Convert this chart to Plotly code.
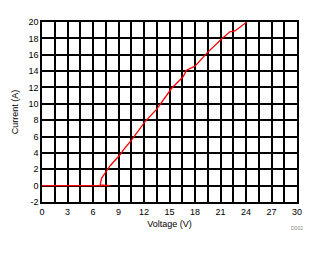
import plotly.graph_objects as go

voltage = [0, 8.0, 7.3, 6.85, 6.9, 7.0, 7.4, 8.0, 9.2, 9.6, 10.55, 12.1, 13.5, 15.26, 16.6, 17.0, 18.0, 19.4, 21.1, 22.1, 22.7, 24.1]
current = [0, 0, 0.05, 0.1, 0.5, 0.9, 1.5, 2.4, 3.8, 4.4, 5.6, 7.8, 9.35, 11.9, 13.3, 14.1, 14.6, 16.2, 17.9, 18.8, 18.9, 20.0]

x_ticks = [0, 3, 6, 9, 12, 15, 18, 21, 24, 27, 30]
y_ticks = [-2, 0, 2, 4, 6, 8, 10, 12, 14, 16, 18, 20]

fig = go.Figure()
fig.add_trace(go.Scatter(x=voltage, y=current, mode="lines",
                         line=dict(color="#ff0000", width=1.3), showlegend=False))

font = dict(family="Arial, Liberation Sans, sans-serif", size=9, color="#000000")
fig.update_layout(
    width=326, height=255,
    margin=dict(l=42, r=29, t=22, b=53),
    paper_bgcolor="white", plot_bgcolor="white",
    font=font,
    xaxis=dict(range=[0, 30], tickvals=x_ticks, ticktext=[str(v) for v in x_ticks],
               showgrid=True, gridcolor="black", gridwidth=1.5,
               minor=dict(dtick=1.5, tick0=0, showgrid=True, gridcolor="black", gridwidth=1.5),
               showline=True, linecolor="black", linewidth=1.5, mirror=True,
               zeroline=False, ticks="", fixedrange=True,
               title=dict(text="Voltage (V)", font=font, standoff=5)),
    yaxis=dict(range=[-2, 20], tickvals=y_ticks, ticktext=[str(v) for v in y_ticks],
               showgrid=True, gridcolor="black", gridwidth=1.5,
               showline=True, linecolor="black", linewidth=1.5, mirror=True,
               zeroline=False, ticks="", fixedrange=True,
               title=dict(text="Current (A)", font=font, standoff=8)),
    annotations=[dict(text="D002", xref="paper", yref="paper",
                      x=(305 - 42) / 255, y=(255 - 53 - 233) / 180,
                      showarrow=False, font=dict(size=5, color="#888888"))],
)
fig.write_html("out.html")
